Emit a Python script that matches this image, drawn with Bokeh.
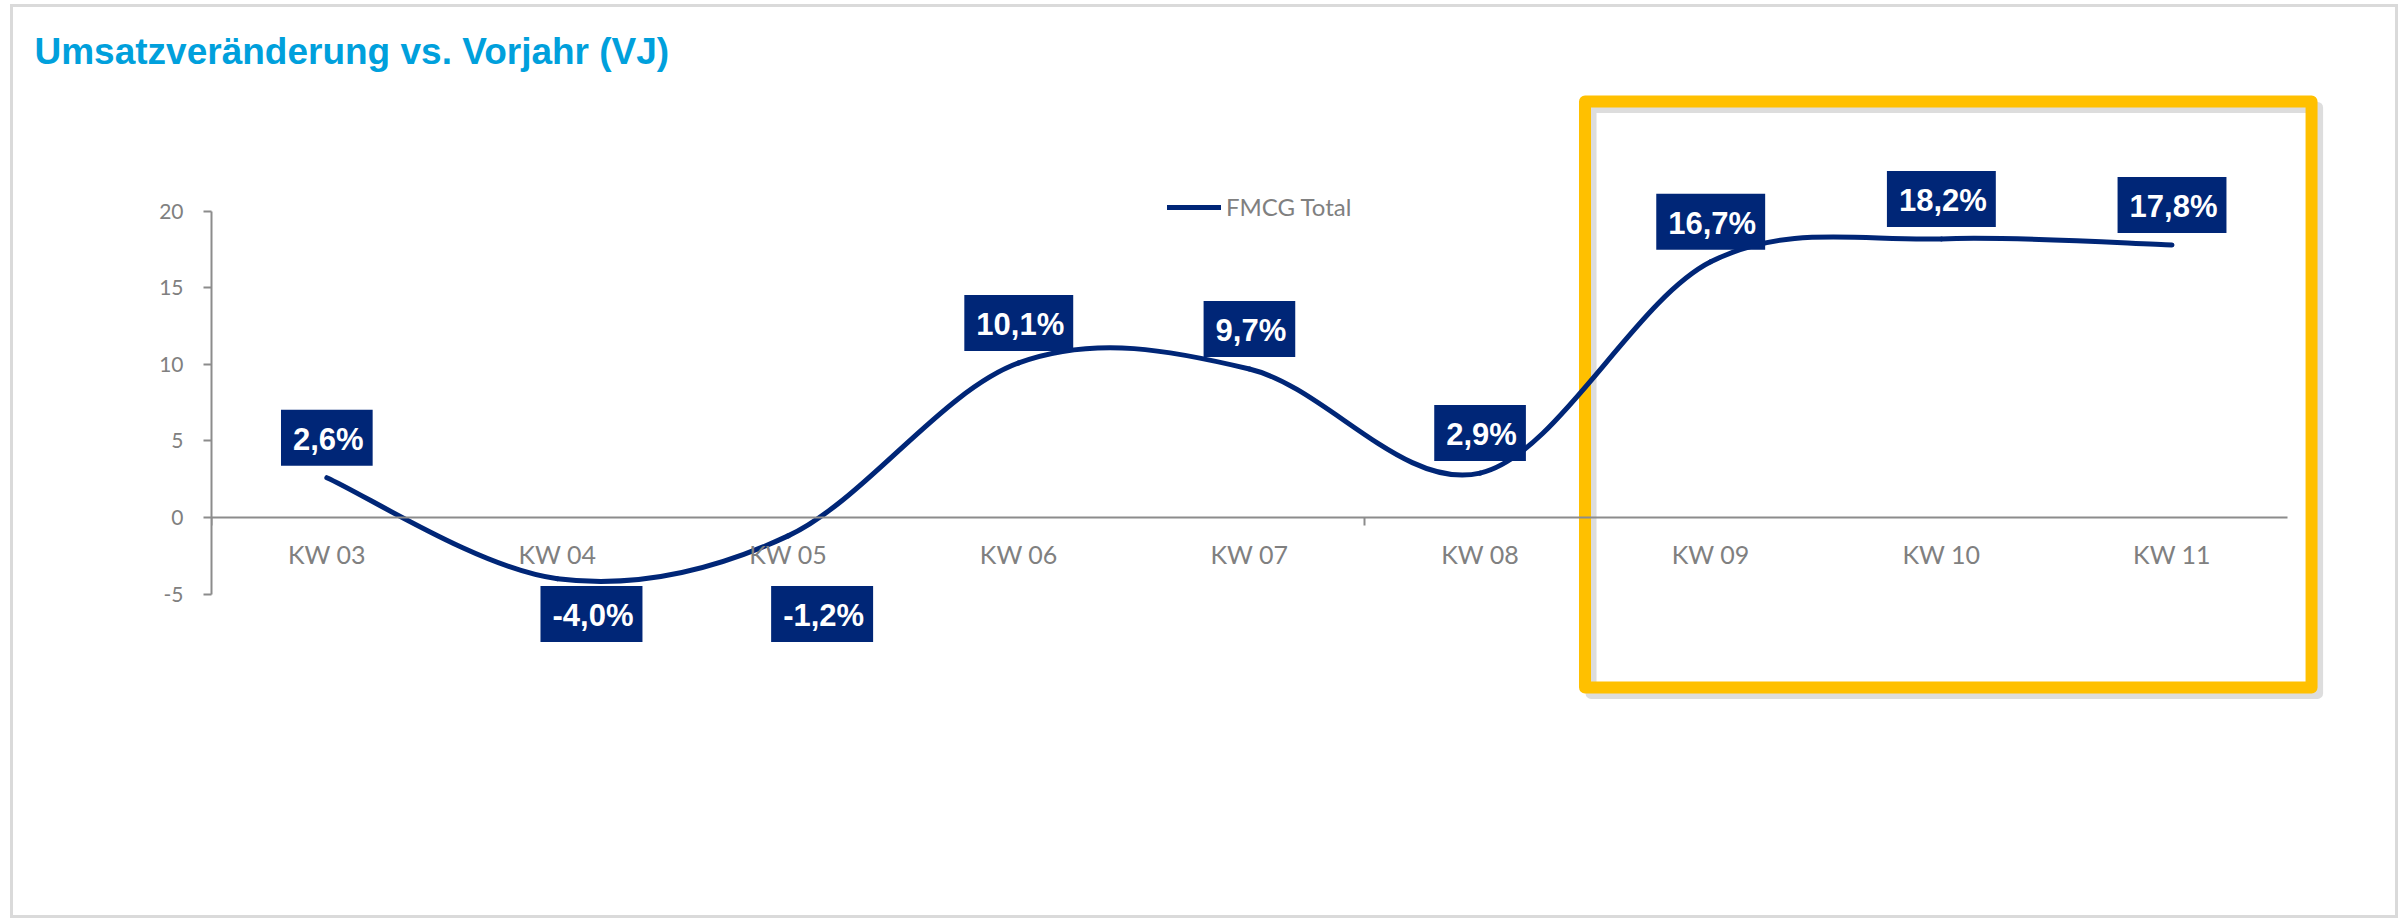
import numpy as np
from bokeh.plotting import figure
from bokeh.models import (FixedTicker, BoxAnnotation, Legend, LegendItem,
                          ColumnDataSource, Range1d, LinearAxis)
from bokeh.core.properties import value
from bokeh.embed import file_html
from bokeh.resources import INLINE

# ---------------- data ----------------
categories = ["KW 03", "KW 04", "KW 05", "KW 06", "KW 07", "KW 08", "KW 09", "KW 10", "KW 11"]
fmcg_total = [2.6, -4.0, -1.2, 10.1, 9.7, 2.9, 16.7, 18.2, 17.8]
y_ticks = [-5, 0, 5, 10, 15, 20]
series_name = "FMCG Total"
title_text = "Umsatzveränderung vs. Vorjahr (VJ)"
highlight_from, highlight_to = "KW 09", "KW 11"

# ---------------- style / layout ----------------
NAVY = "#002677"
GRAY_TXT = "#808080"
AXIS_GRAY = "#8C8C8C"
YELLOW = "#FFC000"
TITLE_BLUE = "#00A0DC"

W, H = 2382, 908
LEFT, RIGHT, TOP, BOTTOM = 198, 56, 68, 183
CAT_PX = 230.0
UNIT_PX = 15.17
ZERO_FROM_TOP = 438.0

frame_w = W - LEFT - RIGHT
frame_h = H - TOP - BOTTOM
x_end = frame_w / CAT_PX
y_end = ZERO_FROM_TOP / UNIT_PX
y_start = y_end - frame_h / UNIT_PX

p = figure(width=W, height=H, output_backend="svg", toolbar_location=None,
           x_range=Range1d(0, x_end), y_range=Range1d(y_start, y_end),
           x_axis_type=None, y_axis_type=None,
           min_border_left=LEFT, min_border_right=RIGHT,
           min_border_top=TOP, min_border_bottom=BOTTOM)
p.outline_line_color = None
p.background_fill_color = "white"
p.border_fill_color = "white"
p.styles = {"border": "3px solid #DADADA", "margin-left": "10px", "margin-top": "4px",
            "box-sizing": "content-box"}

# title
p.title.text = title_text
p.title.text_font = "Liberation Sans"
p.title.text_font_style = "bold"
p.title.text_font_size = "37px"
p.title.text_color = TITLE_BLUE
p.title.align = "left"
p.title.offset = 21 - LEFT
p.title.standoff = 7

n = len(categories)
xs = np.arange(n) + 0.5
ys = np.array(fmcg_total, dtype=float)

# highlight box (KW 09 .. KW 11)
i0 = categories.index(highlight_from)
i1 = categories.index(highlight_to) + 1
bx_l, bx_r, bx_t, bx_b = i0 - 0.045, i1 + 0.105, 27.18, -11.1
sdx, sdy = 6 / CAT_PX, 6 / UNIT_PX
shadow = BoxAnnotation(left=bx_l + sdx, right=bx_r + sdx, top=bx_t - sdy, bottom=bx_b - sdy,
                       fill_alpha=0, line_color="#B4B4B4", line_alpha=0.45, line_width=11,
                       line_join="round", level="underlay")
ybox = BoxAnnotation(left=bx_l, right=bx_r, top=bx_t, bottom=bx_b,
                     fill_alpha=0, line_color=YELLOW, line_alpha=1.0, line_width=12,
                     line_join="round", level="underlay")
p.add_layout(shadow)
p.add_layout(ybox)

# axes
xaxis = LinearAxis(ticker=FixedTicker(ticks=list(xs), minor_ticks=list(range(0, n + 1, 5))),
                   fixed_location=0, bounds=(0, n),
                   major_label_overrides={float(x): c for x, c in zip(xs, categories)},
                   major_tick_out=0, major_tick_in=0, minor_tick_out=8, minor_tick_in=0,
                   minor_tick_line_color=AXIS_GRAY, minor_tick_line_width=2,
                   axis_line_color=AXIS_GRAY, axis_line_width=2,
                   major_label_text_font="Lato", major_label_text_font_size="25px",
                   major_label_text_color=GRAY_TXT, major_label_standoff=13)
p.add_layout(xaxis, "below")

yaxis = LinearAxis(ticker=FixedTicker(ticks=y_ticks), bounds=(y_ticks[0], y_ticks[-1]),
                   major_label_overrides={t: str(t) for t in y_ticks},
                   major_tick_out=8, major_tick_in=0, minor_tick_out=0, minor_tick_in=0,
                   major_tick_line_color=AXIS_GRAY, major_tick_line_width=2,
                   axis_line_color=AXIS_GRAY, axis_line_width=2,
                   major_label_text_font="Lato", major_label_text_font_size="21px",
                   major_label_text_color=GRAY_TXT, major_label_standoff=20)
p.add_layout(yaxis, "left")

# smooth line (Catmull-Rom -> cubic Bezier segments)
prev_i = np.maximum(np.arange(n - 1) - 1, 0)
next_i = np.minimum(np.arange(n - 1) + 2, n - 1)
bz = ColumnDataSource(dict(
    x0=xs[:-1], y0=ys[:-1], x1=xs[1:], y1=ys[1:],
    cx0=xs[:-1] + (xs[1:] - xs[prev_i]) / 6, cy0=ys[:-1] + (ys[1:] - ys[prev_i]) / 6,
    cx1=xs[1:] - (xs[next_i] - xs[:-1]) / 6, cy1=ys[1:] - (ys[next_i] - ys[:-1]) / 6,
))
curve = p.bezier(x0="x0", y0="y0", x1="x1", y1="y1", cx0="cx0", cy0="cy0", cx1="cx1", cy1="cy1",
                 source=bz, line_color=NAVY, line_width=5, line_cap="round")

# data labels
NEG_LABEL_Y = -6.3
labels = ColumnDataSource(dict(
    x=xs,
    y=np.where(ys >= 0, ys, NEG_LABEL_Y),
    dx=np.where(ys >= 0, 0, 34),
    dy=np.where(ys >= 0, -40, 0),
    text=[f"{v:.1f}".replace(".", ",") + "%" for v in ys],
))
p.text(x="x", y="y", text="text", source=labels, x_offset="dx", y_offset="dy",
       text_font=value("Liberation Sans"), text_font_style="bold", text_font_size="31px",
       text_color="white", text_align="center", text_baseline="middle",
       background_fill_color=NAVY, padding=(12, 9, 12, 9))

# legend
legend = Legend(items=[LegendItem(label=series_name, renderers=[curve])],
                location=(956, 517), orientation="vertical",
                glyph_width=54, glyph_height=26, label_standoff=5,
                padding=0, margin=0, spacing=0,
                border_line_color=None, background_fill_alpha=0,
                label_text_font="Lato", label_text_font_size="24px",
                label_text_color=GRAY_TXT, label_text_baseline="middle")
p.add_layout(legend)

open("out.html", "w").write(file_html(p, INLINE))
